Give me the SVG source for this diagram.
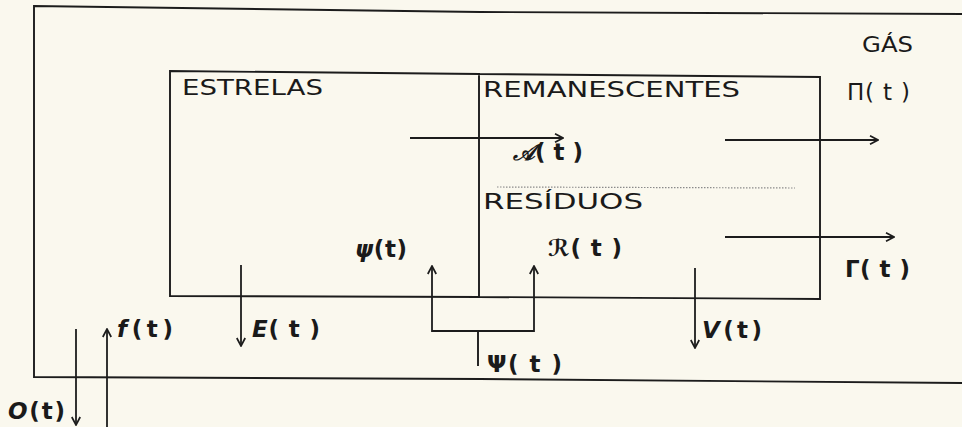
<svg xmlns="http://www.w3.org/2000/svg" width="962" height="427" viewBox="0 0 962 427">
<defs>
<style>
.ln{fill:none;stroke:#1c1c1c;stroke-width:1.9;stroke-linecap:square}
.ar{fill:none;stroke:#1c1c1c;stroke-width:1.8;marker-end:url(#arr)}
.ttl{font-family:"DejaVu Sans","Liberation Sans",sans-serif;font-size:22px;fill:#1a1a1a}
.lbl{font-family:"DejaVu Sans","Liberation Sans",sans-serif;font-size:23px;font-weight:bold;fill:#1a1a1a}
.nb{font-weight:normal}
.it{font-style:italic}
</style>
<marker id="arr" viewBox="0 0 10 10" refX="9" refY="5" markerWidth="10" markerHeight="10" markerUnits="userSpaceOnUse" orient="auto">
<path d="M1,0.8 L9,5 L1,9.2" fill="none" stroke="#1c1c1c" stroke-width="1.7"/>
</marker>
</defs>
<rect x="0" y="0" width="962" height="427" fill="#faf8ee"/>

<g id="gas">
<polyline class="ln" points="962,14 480,12 34,6 34,377 480,379 962,383"/>
<text class="ttl" x="862" y="52" textLength="51" lengthAdjust="spacingAndGlyphs">GÁS</text>
</g>

<g id="estrelas">
<polyline class="ln" points="479,74 170,71 170,296 479,297"/>
<text class="ttl" x="182" y="95" textLength="141" lengthAdjust="spacingAndGlyphs">ESTRELAS</text>
</g>

<g id="remanescentes">
<polyline class="ln" points="479,74 820,77 820,299 479,297 479,74"/>
<text class="ttl" x="483" y="97" textLength="257" lengthAdjust="spacingAndGlyphs">REMANESCENTES</text>
</g>

<g id="residuos">
<line x1="497" y1="187" x2="795" y2="188" stroke="#8a8a8a" stroke-width="1.2" stroke-dasharray="1.5,1.5"/>
<text class="ttl" x="483" y="209" textLength="160" lengthAdjust="spacingAndGlyphs">RESÍDUOS</text>
</g>

<g id="connectors">
<line class="ar" x1="410" y1="138" x2="563" y2="138"/>
<line class="ar" x1="725" y1="140" x2="878" y2="140"/>
<line class="ar" x1="725" y1="237" x2="894" y2="237"/>
<line class="ar" x1="241" y1="265" x2="241" y2="346"/>
<line class="ar" x1="695" y1="268" x2="695" y2="348"/>
<line class="ar" x1="107" y1="427" x2="107" y2="329"/>
<line class="ar" x1="76" y1="329" x2="76" y2="425"/>
<polyline class="ar" points="478,331 432,331 432,266"/>
<polyline class="ar" points="478,331 534,331 534,266"/>
<line class="ln" x1="478" y1="332" x2="478" y2="365"/>
</g>

<g id="labels">
<text class="lbl nb" x="847" y="100" textLength="63" lengthAdjust="spacing">Π( t )</text>
<text class="lbl" x="513" y="160" textLength="70" lengthAdjust="spacing"><tspan class="it">𝒜</tspan>( t )</text>
<text class="lbl" x="845" y="277" textLength="65" lengthAdjust="spacing">Γ( t )</text>
<text class="lbl" x="548" y="256" textLength="74" lengthAdjust="spacing">ℛ( t )</text>
<text class="lbl" x="355" y="257" textLength="52" lengthAdjust="spacing"><tspan class="it">ψ</tspan>(t)</text>
<text class="lbl" x="252" y="337" textLength="68" lengthAdjust="spacing"><tspan class="it">E</tspan>( t )</text>
<text class="lbl" x="117" y="337" textLength="56" lengthAdjust="spacing"><tspan class="it">f</tspan>(t)</text>
<text class="lbl" x="702" y="338" textLength="60" lengthAdjust="spacing"><tspan class="it">V</tspan>(t)</text>
<text class="lbl" x="8" y="419" textLength="57" lengthAdjust="spacing"><tspan class="it">O</tspan>(t)</text>
<text class="lbl" x="487" y="372" textLength="75" lengthAdjust="spacing">Ψ( t )</text>
</g>
</svg>
